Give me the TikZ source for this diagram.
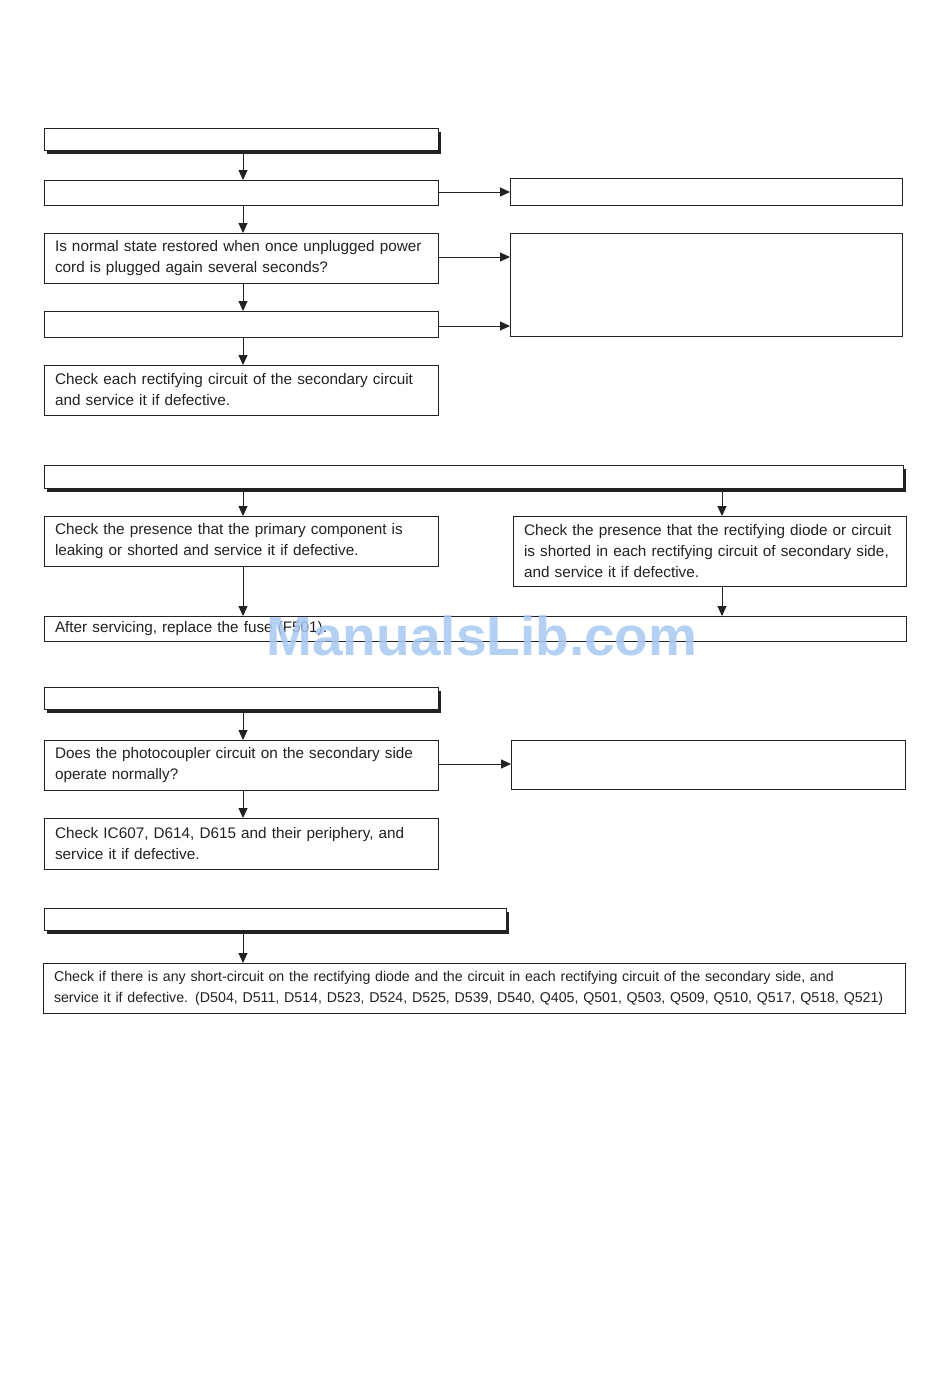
\documentclass[tikz,border=0pt]{standalone}
\usepackage{fontspec}
\setmainfont{Liberation Sans}
\usetikzlibrary{arrows.meta,shadows}
\definecolor{ink}{HTML}{222222}
\definecolor{wm}{RGB}{168,200,242}
\tikzset{
  box/.style={draw=ink, line width=1pt, fill=white, anchor=north west, inner sep=0pt, outer sep=0pt},
  txtbox/.style={box, align=left, inner xsep=11pt, font=\fontsize{15.3}{21}\selectfont, text=ink},
  header/.style={box, drop shadow={shadow xshift=3pt, shadow yshift=-4pt, opacity=1, fill=ink}},
  arr/.style={draw=ink, line width=1pt, -{Triangle[length=10pt,width=9pt]}},
}
\begin{document}
\begin{tikzpicture}[x=1pt,y=-1pt]
\useasboundingbox (0,0) rectangle (950,1379);
\fill[white] (0,0) rectangle (950,1379);
% ---- section 1
\node[header, minimum width=394pt, minimum height=22pt] (h1) at (44,128) {};
\node[box, minimum width=394pt, minimum height=25pt] (b1) at (44,180) {};
\node[box, minimum width=392pt, minimum height=27pt] (r1) at (510,178) {};
\node[txtbox, minimum width=394pt, minimum height=50pt, text width=372pt] (c1) at (44,233)
  {Is normal state restored when once unplugged power\\cord is plugged again several seconds?};
\node[box, minimum width=392pt, minimum height=103pt] (r2) at (510,233) {};
\node[box, minimum width=394pt, minimum height=26pt] (d1) at (44,311) {};
\node[txtbox, minimum width=394pt, minimum height=50pt, text width=372pt] (e1) at (44,365)
  {Check each rectifying circuit of the secondary circuit\\and service it if defective.};
\draw[arr] (h1.south -| 243,0) -- (b1.north -| 243,0);
\draw[arr] (b1.south -| 243,0) -- (c1.north -| 243,0);
\draw[arr] (c1.south -| 243,0) -- (d1.north -| 243,0);
\draw[arr] (d1.south -| 243,0) -- (e1.north -| 243,0);
\draw[arr] (b1.east |- 0,192) -- (r1.west |- 0,192);
\draw[arr] (c1.east |- 0,257) -- (r2.west |- 0,257);
\draw[arr] (d1.east |- 0,326) -- (r2.west |- 0,326);
% ---- section 2
\node[header, minimum width=859pt, minimum height=23pt] (h2) at (44,465) {};
\node[txtbox, minimum width=394pt, minimum height=50pt, text width=372pt] (f2) at (44,516)
  {Check the presence that the primary component is\\leaking or shorted and service it if defective.};
\node[txtbox, minimum width=393pt, minimum height=70pt, text width=371pt] (g2) at (513,516)
  {Check the presence that the rectifying diode or circuit\\is shorted in each rectifying circuit of secondary side,\\and service it if defective.};
\node[txtbox, minimum width=862pt, minimum height=25pt, text width=840pt] (k2) at (44,616)
  {After servicing, replace the fuse (F501).};
\draw[arr] (h2.south -| 243,0) -- (f2.north -| 243,0);
\draw[arr] (h2.south -| 722,0) -- (g2.north -| 722,0);
\draw[arr] (f2.south -| 243,0) -- (k2.north -| 243,0);
\draw[arr] (g2.south -| 722,0) -- (k2.north -| 722,0);
% ---- section 3
\node[header, minimum width=394pt, minimum height=22pt] (h3) at (44,687) {};
\node[txtbox, minimum width=394pt, minimum height=50pt, text width=372pt] (i3) at (44,740)
  {Does the photocoupler circuit on the secondary side\\operate normally?};
\node[box, minimum width=394pt, minimum height=49pt] (r3) at (511,740) {};
\node[txtbox, minimum width=394pt, minimum height=51pt, text width=372pt] (j3) at (44,818)
  {Check IC607, D614, D615 and their periphery, and\\service it if defective.};
\draw[arr] (h3.south -| 243,0) -- (i3.north -| 243,0);
\draw[arr] (i3.south -| 243,0) -- (j3.north -| 243,0);
\draw[arr] (i3.east |- 0,764) -- (r3.west |- 0,764);
% ---- section 4
\node[header, minimum width=462pt, minimum height=22pt] (h4) at (44,908) {};
\node[txtbox, minimum width=862pt, minimum height=50pt, text width=840pt, font=\fontsize{14.2}{21}\selectfont] (k4) at (43,963)
  {Check if there is any short-circuit on the rectifying diode and the circuit in each rectifying circuit of the secondary side, and\\service it if defective. (D504, D511, D514, D523, D524, D525, D539, D540, Q405, Q501, Q503, Q509, Q510, Q517, Q518, Q521)};
\draw[arr] (h4.south -| 243,0) -- (k4.north -| 243,0);
% ---- watermark
\node[text=wm, opacity=0.85, font=\fontsize{55}{55}\bfseries\selectfont, inner sep=0pt] (wm) at (482,636) {ManualsLib.com};
\end{tikzpicture}
\end{document}
